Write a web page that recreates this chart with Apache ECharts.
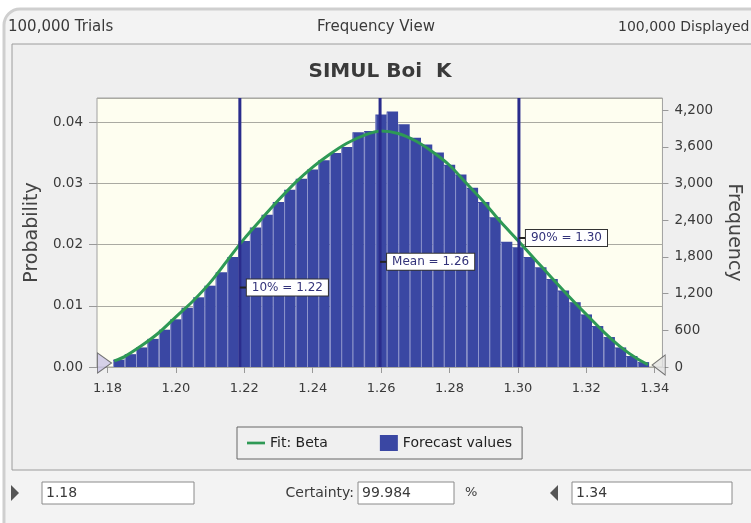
<!DOCTYPE html>
<html><head><meta charset="utf-8">
<script src="https://cdn.jsdelivr.net/npm/echarts@6/dist/echarts.min.js"></script>
<style>html,body{margin:0;padding:0;background:#fff}#c{width:751px;height:523px}</style>
</head><body><div id="c"></div>
<script>
// ---- data ----
const binCenters = [1.1833,1.1867,1.1900,1.1933,1.1967,1.2000,1.2033,1.2067,1.2100,1.2133,1.2167,1.2200,
  1.2233,1.2267,1.2300,1.2333,1.2367,1.2400,1.2433,1.2467,1.2500,1.2533,1.2567,1.2600,
  1.2633,1.2667,1.2700,1.2733,1.2767,1.2800,1.2833,1.2867,1.2900,1.2933,1.2967,1.3000,
  1.3033,1.3067,1.3100,1.3133,1.3167,1.3200,1.3233,1.3267,1.3300,1.3333,1.3367];
const binProb = [0.0012,0.0021,0.0032,0.0046,0.0061,0.0078,0.0097,0.0114,0.0133,0.0155,0.0180,0.0206,
  0.0228,0.0249,0.0270,0.0290,0.0308,0.0323,0.0338,0.0350,0.0360,0.0384,0.0386,0.0413,
  0.0418,0.0397,0.0375,0.0364,0.0351,0.0331,0.0315,0.0293,0.0270,0.0245,0.0205,0.0196,
  0.0180,0.0163,0.0144,0.0125,0.0106,0.0086,0.0067,0.0049,0.0032,0.0018,0.0008];
const binWidth = 0.00333;
const fitX = [1.182,1.185,1.19,1.195,1.2,1.205,1.21,1.215,1.22,1.225,1.23,1.235,1.24,1.245,1.25,1.255,1.26,
  1.265,1.27,1.275,1.28,1.285,1.29,1.295,1.3,1.305,1.31,1.315,1.32,1.325,1.33,1.335,1.338];
const fitY = [0.0010,0.0017,0.0035,0.0056,0.0082,0.0108,0.0138,0.0174,0.0210,0.0242,0.0273,0.0302,0.0327,0.0348,0.0366,0.0379,0.0386,
  0.0382,0.0370,0.0352,0.0330,0.0300,0.0270,0.0237,0.0207,0.0176,0.0145,0.0115,0.0086,0.0058,0.0033,0.0013,0.0004];
const markerX = [1.2187, 1.2597, 1.3003];
const markerText = ['10% = 1.22', 'Mean = 1.26', '90% = 1.30'];
const markerLabelY = [0.0130, 0.0172, 0.0211];
const grabberX = [1.18, 1.34];
const trials = 100000;
const xMin = 1.18, xMax = 1.34, xInterval = 0.02;
const yMax = 0.044, yInterval = 0.01;
const freqInterval = 600;
const headerTexts = ['100,000 Trials', 'Frequency View', '100,000 Displayed'];
const chartTitle = 'SIMUL Boi  K';
const certaintyLow = '1.18', certaintyValue = '99.984', certaintyHigh = '1.34';

// ---- chart ----
const FONT = 'DejaVu Sans';
const TXT = '#3a3a3a';
const chart = echarts.init(document.getElementById('c'), null, {renderer: 'canvas'});

function box(x, y, w, h) {
  return {type: 'rect', shape: {x: x, y: y, width: w, height: h},
    style: {fill: '#ffffff', stroke: '#8a8a8a', lineWidth: 1}, z: -5};
}
function txt(x, y, s, size, align, weight) {
  return {type: 'text', x: x, y: y, z: 1,
    style: {text: s, fill: TXT, font: (weight || 'normal') + ' ' + size + 'px "' + FONT + '"',
      align: align || 'left', verticalAlign: 'middle'}};
}

const option = {
  animation: false,
  backgroundColor: '#ffffff',
  graphic: [
    {type: 'rect', shape: {x: 4, y: 9, width: 820, height: 560, r: 16},
      style: {fill: '#f3f3f3', stroke: '#cfcfcf', lineWidth: 3}, z: -10},
    {type: 'rect', shape: {x: 12, y: 44, width: 800, height: 426},
      style: {fill: '#efefef', stroke: '#9c9c9c', lineWidth: 1}, z: -9},
    txt(8, 27, headerTexts[0], 15),
    txt(376, 27, headerTexts[1], 15, 'center'),
    txt(618, 27, headerTexts[2], 14),
    txt(380, 72, chartTitle, 20, 'center', 'bold'),
    {type: 'polygon', shape: {points: [[11, 485], [19, 493], [11, 501]]}, style: {fill: '#555'}, z: 1},
    box(42, 482, 152, 22), txt(46, 493, certaintyLow, 14),
    txt(354, 493, 'Certainty:', 14, 'right'),
    box(358, 482, 96, 22), txt(362, 493, certaintyValue, 14),
    txt(465, 493, '%', 13),
    {type: 'polygon', shape: {points: [[558, 485], [550, 493], [558, 501]]}, style: {fill: '#555'}, z: 1},
    box(572, 482, 160, 22), txt(576, 493, certaintyHigh, 14)
  ],
  legend: {
    left: 237, top: 427, orient: 'horizontal',
    padding: [8, 10], itemGap: 52, itemWidth: 18, itemHeight: 16,
    borderColor: '#666', borderWidth: 1, backgroundColor: '#f0f0f0',
    textStyle: {fontFamily: FONT, fontSize: 14, color: '#222'},
    data: [
      {name: 'Fit: Beta', icon: 'path://M0,0L20,0L20,3L0,3Z'},
      {name: 'Forecast values', icon: 'rect'}
    ]
  },
  grid: [
    {left: 97, top: 98, width: 570, height: 269, show: true,
      backgroundColor: '#fefef0', borderColor: '#a0a0a0', borderWidth: 1},
    {left: 107.5, top: 98, width: 547.2, height: 269}
  ],
  xAxis: [
    {gridIndex: 0, type: 'value', min: 0, max: 1, show: false},
    {gridIndex: 1, type: 'value', min: xMin, max: xMax, interval: xInterval,
      axisLine: {show: false},
      axisTick: {show: true, length: 6, lineStyle: {color: '#999'}},
      splitLine: {show: false},
      axisLabel: {margin: 15, color: TXT, fontFamily: FONT, fontSize: 13,
        formatter: v => v.toFixed(2)}}
  ],
  yAxis: [
    {gridIndex: 0, type: 'value', min: 0, max: yMax, interval: yInterval, position: 'left',
      name: 'Probability', nameLocation: 'middle', nameGap: 50, nameRotate: 90,
      nameTextStyle: {fontFamily: FONT, fontSize: 19, color: '#444'},
      axisLine: {show: false},
      axisTick: {show: true, length: 8, lineStyle: {color: '#999'}},
      splitLine: {show: true, lineStyle: {color: '#aaaaa2', width: 1}},
      axisLabel: {margin: 14, color: TXT, fontFamily: FONT, fontSize: 13.5, showMaxLabel: false,
        formatter: v => v.toFixed(2)}},
    {gridIndex: 0, type: 'value', min: 0, max: yMax * trials, interval: freqInterval, position: 'right',
      name: 'Frequency', nameLocation: 'middle', nameGap: 58, nameRotate: -90,
      nameTextStyle: {fontFamily: FONT, fontSize: 19, color: '#444'},
      axisLine: {show: false},
      axisTick: {show: true, length: 6, lineStyle: {color: '#999'}},
      splitLine: {show: false},
      axisLabel: {margin: 12, color: TXT, fontFamily: FONT, fontSize: 13.5, showMaxLabel: false,
        formatter: v => v.toLocaleString('en-US')}},
    {gridIndex: 1, type: 'value', min: 0, max: yMax, show: false}
  ],
  series: [
    {
      name: 'Forecast values', type: 'custom', xAxisIndex: 1, yAxisIndex: 2, z: 2,
      itemStyle: {color: '#3a47a3'},
      data: binCenters.map((c, i) => [c, binProb[i]]),
      renderItem: function (params, api) {
        const c = api.value(0), v = api.value(1);
        const p0 = api.coord([c - binWidth / 2, v]);
        const p1 = api.coord([c + binWidth / 2, 0]);
        return {type: 'group', children: [
          {type: 'rect', shape: {x: p0[0], y: p0[1], width: p1[0] - p0[0], height: p1[1] - p0[1]},
            style: {fill: '#3a47a3'}},
          {type: 'line', shape: {x1: p0[0] + 0.5, y1: p0[1] + 1, x2: p0[0] + 0.5, y2: p1[1]},
            style: {stroke: '#8f96cc', lineWidth: 1}}
        ]};
      }
    },
    {
      name: 'Fit: Beta', type: 'line', xAxisIndex: 1, yAxisIndex: 2, z: 3,
      smooth: 0.3, showSymbol: false, symbol: 'none',
      itemStyle: {color: '#2e9955'},
      lineStyle: {color: '#2e9955', width: 3},
      data: fitX.map((x, i) => [x, fitY[i]])
    },
    {
      name: 'markers', type: 'custom', xAxisIndex: 1, yAxisIndex: 2, z: 4, clip: false,
      data: markerX.map((x, i) => [x, markerLabelY[i], i]),
      renderItem: function (params, api) {
        const x = api.value(0), ly = api.value(1), idx = api.value(2);
        const b = api.coord([x, 0]), t = api.coord([x, yMax]), l = api.coord([x, ly]);
        return {type: 'group', children: [
          {type: 'line', shape: {x1: b[0], y1: b[1], x2: t[0], y2: t[1]},
            style: {stroke: '#2a2c8c', lineWidth: 3}},
          {type: 'line', shape: {x1: l[0], y1: l[1], x2: l[0] + 7, y2: l[1]},
            style: {stroke: '#222', lineWidth: 2}},
          {type: 'text', x: l[0] + 7, y: l[1],
            style: {text: markerText[idx], fill: '#33337a', font: '12px "DejaVu Sans"',
              align: 'left', verticalAlign: 'middle', backgroundColor: '#ffffff',
              borderColor: '#333', borderWidth: 1, padding: [2, 5]}}
        ]};
      }
    },
    {
      name: 'grabbers', type: 'scatter', xAxisIndex: 1, yAxisIndex: 2, z: 5, clip: false,
      data: [
        {value: [grabberX[0], 0], symbol: 'path://M0,0L14,10L0,20Z', symbolSize: [14, 20],
          symbolOffset: [-3, -4], itemStyle: {color: '#cbc4e6', borderColor: '#555', borderWidth: 1}},
        {value: [grabberX[1], 0], symbol: 'path://M14,0L0,10L14,20Z', symbolSize: [13, 20],
          symbolOffset: [4, -2], itemStyle: {color: '#e2e2e2', borderColor: '#555', borderWidth: 1}}
      ]
    }
  ]
};
chart.setOption(option);
</script>
</body></html>
